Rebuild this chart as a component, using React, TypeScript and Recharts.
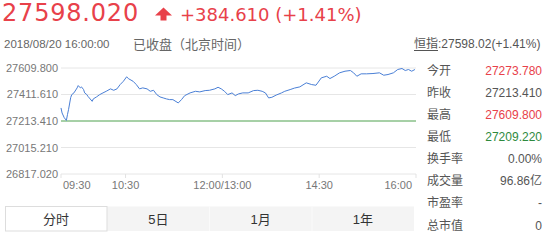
import React from "react";
import { LineChart, Line, XAxis, YAxis, CartesianGrid, ReferenceLine } from "recharts";

// ---- data ----
const minutes = [
  0, 1, 3, 5, 6, 7, 9, 10, 12, 15, 16, 18, 19, 21, 22, 24, 25, 29, 30, 33, 36, 39, 42, 46, 49, 52, 55, 58, 61, 63,
  67, 70, 73, 76, 80, 83, 86, 89, 92, 95, 98, 101, 104, 109, 112, 115, 120, 125, 129, 134, 138, 143, 146, 149, 152,
  155, 159, 162, 165, 169, 174, 179, 183, 187, 190, 193, 196, 200, 205, 208, 213, 217, 222, 228, 233, 237, 242, 247,
  250, 254, 259, 264, 269, 272, 275, 279, 284, 290, 296, 300, 304, 309, 313, 317, 320, 323, 326, 329,
];
const prices = [
  27311.0, 27273.5, 27238.2, 27217.9, 27260.7, 27298.2, 27388.3, 27410.8, 27423.6, 27461.1, 27478.4, 27461.1, 27468.6,
  27448.4, 27423.6, 27410.8, 27398.1, 27360.5, 27378.6, 27393.6, 27410.8, 27423.6, 27435.6, 27453.6, 27443.1, 27453.6,
  27485.9, 27510.7, 27543.7, 27528.7, 27510.7, 27485.9, 27453.6, 27461.1, 27453.6, 27435.6, 27443.1, 27410.8, 27393.6,
  27386.1, 27378.6, 27373.3, 27373.3, 27348.5, 27373.3, 27403.3, 27423.6, 27435.6, 27431.1, 27440.9, 27443.1, 27453.6,
  27465.6, 27453.6, 27435.6, 27410.8, 27423.6, 27403.3, 27416.1, 27423.6, 27423.6, 27440.9, 27443.1, 27435.6, 27423.6,
  27386.1, 27390.6, 27407.1, 27423.6, 27435.6, 27448.4, 27459.6, 27468.6, 27498.7, 27485.9, 27480.7, 27536.2, 27548.2,
  27530.9, 27548.2, 27573.7, 27585.8, 27591.0, 27573.7, 27548.2, 27566.2, 27566.2, 27568.5, 27573.7, 27555.7, 27561.0,
  27573.7, 27598.5, 27606.0, 27591.0, 27598.5, 27585.8, 27598.5,
];
const prevClose = 27213.41;
const yTickLabels = ["26817.020", "27015.210", "27213.410", "27411.610", "27609.800"];
const xTickMinutes = [0, 60, 150, 240, 330];
const xTickLabels = ["09:30", "10:30", "12:00/13:00", "14:30", "16:00"];

const headPrice = "27598.020";
const headChange = "+384.610 (+1.41%)";
const headTime = "2018/08/20 16:00:00";
const headStatus = "已收盘（北京时间）";
const indexName = "恒指";
const indexInfo = ":27598.02(+1.41%)";

const statLabels = ["今开", "昨收", "最高", "最低", "换手率", "成交量", "市盈率", "总市值"];
const statValues = ["27273.780", "27213.410", "27609.800", "27209.220", "0.00%", "96.86亿", "-", "0"];
const statTones = ["up", "flat", "up", "down", "flat", "flat", "flat", "flat"];

const tabs = ["分时", "5日", "1月", "1年"];

const chartData = minutes.map((t, i) => ({ t, p: prices[i] }));
const yTicks = yTickLabels.map((s) => parseFloat(s));

const RED = "#e8414a";
const GREEN = "#2e8a3e";
const GRAY = "#555";
const SANS = "'Liberation Sans', Arial, 'Noto Sans CJK SC', sans-serif";
const WIDE = "'DejaVu Sans', 'Noto Sans CJK SC', sans-serif";

const XTick = (props: any) => {
  const { x, y, payload, index } = props;
  const last = index === xTickMinutes.length - 1;
  const anchor = index === 0 ? "start" : last ? "end" : "middle";
  const dx = index === 0 ? 2 : last ? -4 : 0;
  const label = xTickLabels[xTickMinutes.indexOf(payload.value)];
  return (
    <text x={x + dx} y={y} dy={8.5} textAnchor={anchor} fontSize={11} fill="#777" fontFamily={SANS}>
      {label}
    </text>
  );
};

const YTick = (props: any) => {
  const { x, y, payload } = props;
  const label = yTickLabels[yTicks.indexOf(payload.value)];
  return (
    <text x={x} y={y} dy={4} textAnchor="end" fontSize={11} fill="#777" fontFamily={SANS}>
      {label}
    </text>
  );
};

const toneColor = (t: string) => (t === "up" ? RED : t === "down" ? GREEN : GRAY);

export default function App() {
  return (
    <div style={{ position: "absolute", left: 0, top: 0, width: 557, height: 240, background: "#fff", overflow: "hidden" }}>
      <svg width={557} height={240} style={{ position: "absolute", left: 0, top: 0 }}>
        <text x={2} y={20.7} fontFamily={WIDE} fontSize={24} letterSpacing={0.8} fill={RED}>
          {headPrice}
        </text>
        <path d="M163.5 7.5 L155 15.5 L160.5 15.5 L160.5 20.5 L166.5 20.5 L166.5 15.5 L172 15.5 Z" fill={RED} />
        <text x={180} y={20.7} fontFamily={WIDE} fontSize={18} fill={RED}>
          {headChange}
        </text>
        <text x={4} y={47.6} fontFamily={SANS} fontSize={11.5} fill="#666">
          {headTime}
        </text>
        <text x={133} y={48.5} fontFamily={SANS} fontSize={13} fill="#666">
          {headStatus}
        </text>
        <text x={414} y={48} fontFamily={SANS} fontSize={12} fill={GRAY}>
          {indexName}
          <tspan>{indexInfo}</tspan>
        </text>
        <line x1={414} x2={438} y1={50.5} y2={50.5} stroke={GRAY} strokeWidth={1} />

        {statLabels.map((l, i) => (
          <g key={l}>
            <text x={427} y={74.5 + i * 22.15} fontFamily={SANS} fontSize={12} fill={GRAY}>
              {l}
            </text>
            <text x={542} y={74.5 + i * 22.15} fontFamily={SANS} fontSize={12} textAnchor="end" fill={toneColor(statTones[i])}>
              {statValues[i]}
            </text>
          </g>
        ))}

        <rect x={107} y={206.5} width={307} height={24.5} fill="#f4f4f4" />
        {tabs.map((t, i) => (
          <g key={t}>
            {i === 0 ? <rect x={5.5} y={206.5} width={101.5} height={24.5} fill="#fff" stroke="#ddd" /> : null}
            {i > 1 ? <line x1={107 + (i - 1) * 102.5} x2={107 + (i - 1) * 102.5} y1={206.5} y2={231} stroke="#fafafa" /> : null}
            <text x={56 + i * 102.3} y={223.5} textAnchor="middle" fontFamily={SANS} fontSize={13} fill="#333">
              {t}
            </text>
          </g>
        ))}
      </svg>

      <div style={{ position: "absolute", left: 0, top: 55 }}>
        <LineChart width={420} height={140} data={chartData} margin={{ top: 13, right: 4, bottom: 0, left: 0 }}>
          <CartesianGrid horizontal vertical={false} stroke="#e6e6e6" />
          <XAxis
            dataKey="t"
            type="number"
            domain={[0, 330]}
            ticks={xTickMinutes}
            axisLine={false}
            tickLine={{ stroke: "#e3e3e3" }}
            tickSize={4}
            tickMargin={2}
            height={21}
            tick={<XTick />}
            interval={0}
          />
          <YAxis
            type="number"
            domain={[yTicks[0], yTicks[yTicks.length - 1]]}
            ticks={yTicks}
            axisLine={false}
            tickLine={false}
            tickSize={0}
            tickMargin={3}
            width={61}
            tick={<YTick />}
            interval={0}
          />
          <ReferenceLine y={prevClose} stroke="#5aad5a" strokeWidth={1} />
          <Line type="linear" dataKey="p" stroke="#4a7fd6" strokeWidth={1} dot={false} isAnimationActive={false} />
        </LineChart>
      </div>
    </div>
  );
}
